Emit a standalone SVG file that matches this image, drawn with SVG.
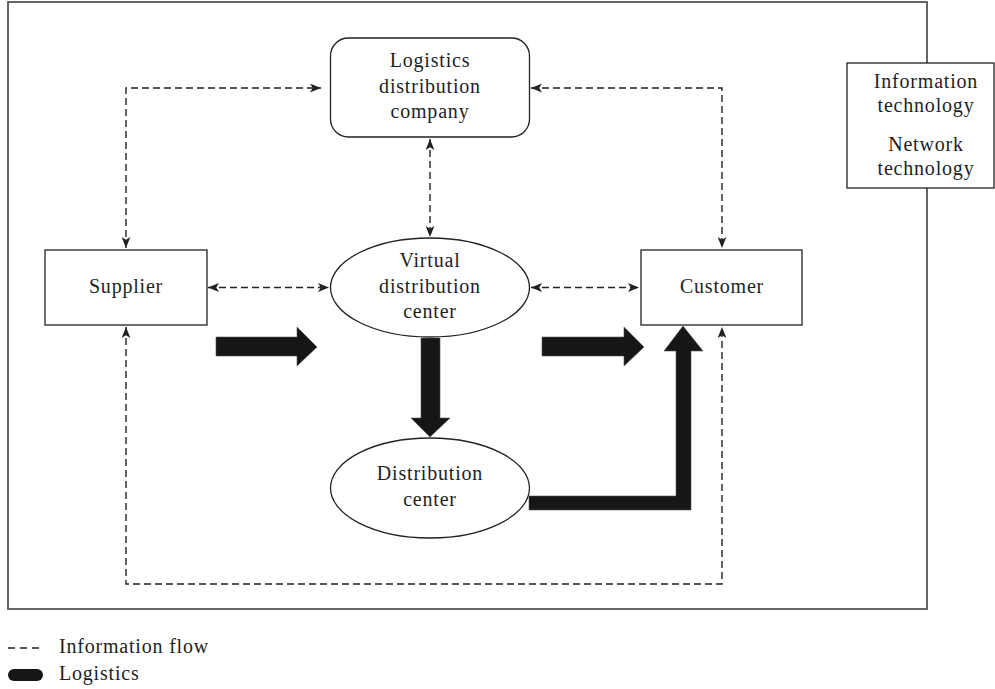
<svg xmlns="http://www.w3.org/2000/svg" width="995" height="689" viewBox="0 0 995 689">
<style>
text{font-family:"Liberation Serif","Times New Roman",serif;font-size:20px;fill:#1e1e1e;letter-spacing:0.8px;text-anchor:middle}
.leg{text-anchor:start}
.node{fill:#fff;stroke:#222;stroke-width:1.3}
.frame{fill:none;stroke:#555;stroke-width:1.8}
.dash{fill:none;stroke:#222;stroke-width:1.4;stroke-dasharray:7 4;marker-start:url(#ah);marker-end:url(#ah)}
.big{fill:#161616;stroke:#555;stroke-width:0.6}
</style>
<defs>
<marker id="ah" viewBox="0 0 10 8" refX="10" refY="4" markerWidth="11" markerHeight="9" markerUnits="userSpaceOnUse" orient="auto-start-reverse">
<path d="M0,0 L10,4 L0,8 L2.5,4 z" fill="#222"/>
</marker>
</defs>
<rect id="frame" class="frame" x="8" y="2" width="919" height="607"/>
<g id="info-tech">
<rect class="node" x="847" y="63" width="147" height="125"/>
<text x="926" y="88">Information</text>
<text x="926" y="112">technology</text>
<text x="926" y="151">Network</text>
<text x="926" y="175">technology</text>
</g>
<g id="logistics-company">
<rect class="node" x="330.5" y="38" width="199" height="99" rx="18"/>
<text x="430" y="67">Logistics</text>
<text x="430" y="93">distribution</text>
<text x="430" y="118">company</text>
</g>
<g id="supplier">
<rect class="node" x="45" y="250" width="162" height="75"/>
<text x="126" y="293">Supplier</text>
</g>
<g id="customer">
<rect class="node" x="641" y="250" width="161" height="75"/>
<text x="722" y="293">Customer</text>
</g>
<g id="virtual-dc">
<ellipse class="node" cx="430" cy="287.5" rx="99.5" ry="49.5"/>
<text x="430" y="267">Virtual</text>
<text x="430" y="293">distribution</text>
<text x="430" y="318">center</text>
</g>
<g id="distribution-center">
<ellipse class="node" cx="430" cy="488" rx="99.5" ry="50"/>
<text x="430" y="480">Distribution</text>
<text x="430" y="506">center</text>
</g>
<g id="connectors">
<path class="dash" d="M126,248 V88 H321"/>
<path class="dash" d="M531,88 H722 V248"/>
<path class="dash" d="M430,139 V237"/>
<path class="dash" d="M208,287.5 H329"/>
<path class="dash" d="M531,287.5 H639"/>
<path class="dash" d="M126,327 V584 H722 V327"/>
<polygon class="big" points="216,337 297,337 297,327 317,347 297,366 297,356 216,356"/>
<polygon class="big" points="542,337 624,337 624,327 644,347 624,366 624,356 542,356"/>
<polygon class="big" points="421,338 440,338 440,418 450,418 430,437 411,418 421,418"/>
<polygon class="big" points="529,496 676,496 676,351 664,351 683,326 703,351 691,351 691,510 529,510"/>
</g>
<g id="legend">
<line x1="8" y1="648" x2="43" y2="648" stroke="#222" stroke-width="1.3" stroke-dasharray="7 5"/>
<text class="leg" x="59" y="653">Information flow</text>
<rect x="8" y="669" width="35" height="12" rx="6" fill="#161616"/>
<text class="leg" x="59" y="680">Logistics</text>
</g>
</svg>
